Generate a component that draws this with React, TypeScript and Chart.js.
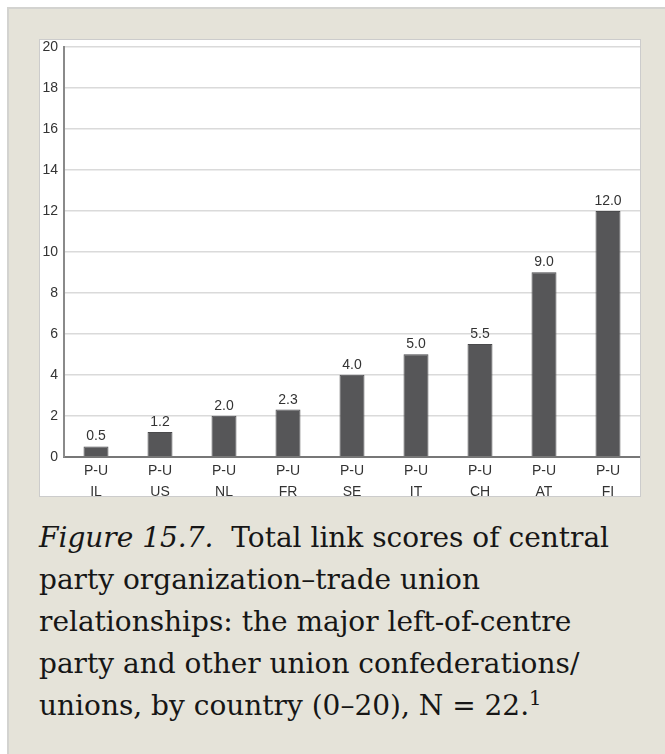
import React, { useEffect, useRef } from 'react';
import { Chart, registerables } from 'chart.js';

Chart.register(...registerables);

// ---- data ----
const countries = ['IL', 'US', 'NL', 'FR', 'SE', 'IT', 'CH', 'AT', 'FI'];
const linkType = 'P-U';
const scores = [0.5, 1.2, 2.0, 2.3, 4.0, 5.0, 5.5, 9.0, 12.0];
const yMin = 0;
const yMax = 20;
const yStep = 2;

const captionLead = 'Figure 15.7.';
const captionLines = [
  'Total link scores of central',
  'party organization\u2013trade union',
  'relationships: the major left-of-centre',
  'party and other union confederations/',
  'unions, by country (0\u201320), N = 22.',
];
const footnoteMark = '1';

const SANS = '"Liberation Sans", Arial, Helvetica, sans-serif';
const SERIF = '"DejaVu Serif", serif';

const valueLabelPlugin = {
  id: 'valueLabels',
  afterDatasetsDraw(chart: any) {
    const ctx = chart.ctx;
    const meta = chart.getDatasetMeta(0);
    ctx.save();
    ctx.font = `14px ${SANS}`;
    ctx.fillStyle = '#333333';
    ctx.textAlign = 'center';
    ctx.textBaseline = 'alphabetic';
    meta.data.forEach((bar: any, i: number) => {
      ctx.fillText(scores[i].toFixed(1), bar.x, bar.y - 6);
    });
    ctx.restore();
  },
};

function BarChart() {
  const ref = useRef<HTMLCanvasElement | null>(null);
  useEffect(() => {
    if (!ref.current) return;
    const chart = new Chart(ref.current, {
      type: 'bar',
      data: {
        labels: countries.map((c) => [linkType, c]),
        datasets: [
          {
            data: scores,
            backgroundColor: '#565658',
            borderColor: '#4a4a4c',
            borderWidth: 1,
            categoryPercentage: 1,
            barPercentage: 0.39,
          },
        ],
      },
      options: {
        animation: false,
        responsive: false,
        devicePixelRatio: 1,
        layout: { padding: { top: 7, right: 0, left: 0, bottom: 0 } },
        plugins: {
          legend: { display: false },
          tooltip: { enabled: false },
        },
        scales: {
          x: {
            grid: { display: false, drawTicks: false },
            border: { color: '#777777', width: 2 },
            ticks: {
              color: '#333333',
              font: { family: SANS, size: 14, lineHeight: 1.5 },
              padding: 4,
              maxRotation: 0,
              autoSkip: false,
            },
            afterFit(s: any) {
              s.height = 39.3;
              s.paddingLeft = 0;
              s.paddingRight = 0;
            },
          },
          y: {
            min: yMin,
            max: yMax,
            ticks: {
              stepSize: yStep,
              color: '#333333',
              font: { family: SANS, size: 14 },
              padding: 6,
            },
            grid: { color: '#dadada', lineWidth: 1.5, drawTicks: false },
            border: { color: '#8a8a8a', width: 2 },
            afterFit(s: any) {
              s.width = 24;
              s.paddingTop = 0;
              s.paddingBottom = 0;
            },
          },
        },
      },
      plugins: [valueLabelPlugin],
    });
    return () => chart.destroy();
  }, []);
  return <canvas ref={ref} width={600} height={456} style={{ display: 'block', width: 600, height: 456 }} />;
}

export default function App() {
  return (
    <div style={{ position: 'absolute', left: 0, top: 0, width: 665, height: 754, overflow: 'hidden', background: '#ffffff' }}>
      <div
        style={{
          position: 'absolute',
          left: 7,
          top: 7,
          right: 0,
          bottom: 0,
          background: '#e5e3d9',
          borderTop: '2px solid #d3d3d0',
          borderLeft: '2px solid #d3d3d0',
        }}
      />
      <div
        style={{
          position: 'absolute',
          left: 39,
          top: 39,
          width: 600,
          height: 456,
          border: '1px solid #cccccc',
          background: '#ffffff',
        }}
      >
        <BarChart />
      </div>
      <div
        style={{
          position: 'absolute',
          left: 39,
          top: 517,
          fontFamily: SERIF,
          fontSize: 28,
          lineHeight: '42px',
          color: '#161616',
          whiteSpace: 'nowrap',
        }}
      >
        <div>
          <i>{captionLead}</i>
          {'\u00a0 '}
          {captionLines[0]}
        </div>
        {captionLines.slice(1).map((l, i) => (
          <div key={i}>
            {l}
            {i === captionLines.length - 2 ? (
              <sup style={{ fontSize: '0.7em', lineHeight: 0 }}>{footnoteMark}</sup>
            ) : null}
          </div>
        ))}
      </div>
    </div>
  );
}
